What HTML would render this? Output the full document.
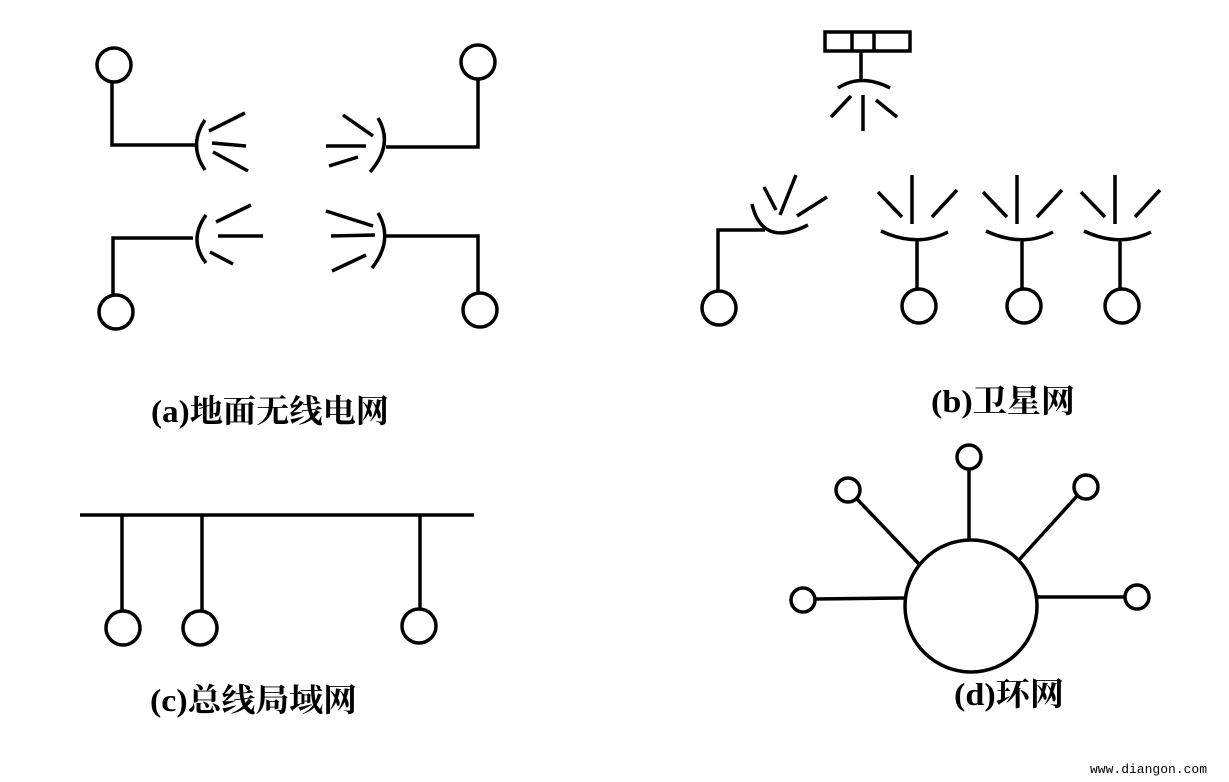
<!DOCTYPE html>
<html><head><meta charset="utf-8"><style>
html,body{margin:0;padding:0;background:#fff;width:1229px;height:782px;overflow:hidden}
svg{display:block}
text{font-family:"Liberation Serif","Noto Serif CJK SC",serif;font-weight:bold;fill:#000}
</style></head><body>
<svg width="1229" height="782" viewBox="0 0 1229 782" fill="none" stroke="#000" stroke-width="3.5" stroke-linecap="butt">
<!-- (a) -->
<circle cx="114" cy="65" r="17"/>
<circle cx="478" cy="62" r="17"/>
<circle cx="116" cy="312" r="17"/>
<circle cx="480" cy="310" r="17"/>
<polyline points="112,82 112,145 196,145"/>
<path d="M205,120 Q188,145 205,170"/>
<line x1="209" y1="131" x2="245" y2="113"/>
<line x1="212" y1="143" x2="246" y2="146"/>
<line x1="213" y1="152" x2="248" y2="171"/>
<polyline points="478,79 478,147 386,147"/>
<path d="M378,118 Q394,145 370,172"/>
<line x1="343" y1="115" x2="373" y2="136"/>
<line x1="326" y1="146" x2="366" y2="146"/>
<line x1="329" y1="166" x2="358" y2="157"/>
<polyline points="113,295 113,238 193,238"/>
<path d="M206,215 Q188,240 206,263"/>
<line x1="216" y1="222" x2="251" y2="205"/>
<line x1="218" y1="236" x2="263" y2="236"/>
<line x1="210" y1="252" x2="233" y2="264"/>
<polyline points="386,236 478,236 478,293"/>
<path d="M378,213 Q394,240 372,268"/>
<line x1="326" y1="211" x2="373" y2="226"/>
<line x1="331" y1="236" x2="375" y2="235"/>
<line x1="332" y1="271" x2="366" y2="255"/>
<!-- (b) -->
<rect x="825" y="32" width="85" height="19"/>
<line x1="852" y1="32" x2="852" y2="51"/>
<line x1="874" y1="32" x2="874" y2="51"/>
<line x1="861" y1="51" x2="861" y2="80"/>
<path d="M838,88 Q861,73 890,88"/>
<line x1="831" y1="117" x2="851" y2="96"/>
<line x1="863" y1="95" x2="863" y2="131"/>
<line x1="876" y1="100" x2="897" y2="117"/>
<circle cx="719" cy="308" r="17"/>
<polyline points="718,291 718,230 765,230"/>
<path d="M752,204 Q762,248 808,225"/>
<line x1="764" y1="187" x2="776" y2="210"/>
<line x1="796" y1="175" x2="780" y2="215"/>
<line x1="797" y1="216" x2="827" y2="197"/>
<g id="t1">
<path d="M881,231 Q917,248 948,232"/>
<line x1="917" y1="240" x2="917" y2="290"/>
<circle cx="919" cy="306" r="17"/>
<line x1="878" y1="192" x2="902" y2="217"/>
<line x1="912" y1="175" x2="912" y2="224"/>
<line x1="932" y1="217" x2="957" y2="190"/>
</g>
<use href="#t1" x="105"/>
<use href="#t1" x="203"/>
<!-- (c) -->
<line x1="80" y1="515" x2="474" y2="515"/>
<line x1="122" y1="515" x2="122" y2="611"/>
<line x1="202" y1="515" x2="202" y2="611"/>
<line x1="420" y1="515" x2="420" y2="609"/>
<circle cx="123" cy="628" r="17"/>
<circle cx="200" cy="628" r="17"/>
<circle cx="419" cy="626" r="17"/>
<!-- (d) -->
<circle cx="971" cy="606" r="66"/>
<circle cx="969" cy="457" r="12"/>
<circle cx="848" cy="490" r="12"/>
<circle cx="1086" cy="487" r="12"/>
<circle cx="803" cy="600" r="12"/>
<circle cx="1137" cy="597" r="12"/>
<line x1="969" y1="469" x2="969" y2="540"/>
<line x1="857" y1="499" x2="919" y2="564"/>
<line x1="1077" y1="496" x2="1019" y2="560"/>
<line x1="815" y1="599" x2="906" y2="598"/>
<line x1="1037" y1="597" x2="1125" y2="597"/>
<g stroke="none">
<text x="151" y="422" font-size="32" textLength="238" lengthAdjust="spacingAndGlyphs">(a)地面无线电网</text>
<text x="931" y="412" font-size="32" textLength="144" lengthAdjust="spacingAndGlyphs">(b)卫星网</text>
<text x="150" y="711" font-size="32" textLength="207" lengthAdjust="spacingAndGlyphs">(c)总线局域网</text>
<text x="954" y="705" font-size="32" textLength="110" lengthAdjust="spacingAndGlyphs">(d)环网</text>
<text x="1090" y="773" font-size="13" style="font-family:'Liberation Mono',monospace;font-weight:normal">www.diangon.com</text>
</g>
</svg>
</body></html>
